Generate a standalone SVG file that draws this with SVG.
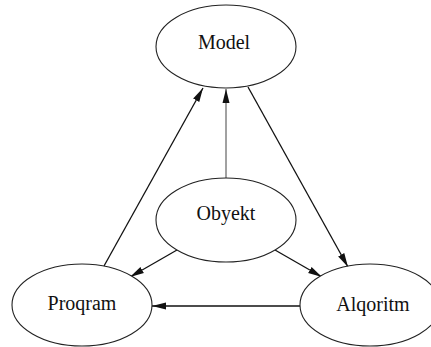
<svg xmlns="http://www.w3.org/2000/svg" width="431" height="347" viewBox="0 0 431 347">
<style>
.node ellipse{fill:#fff;stroke:#222;stroke-width:1.1}
.node text{font-family:"Liberation Serif","Times New Roman",serif;font-size:20px;fill:#111;text-anchor:middle}
.edges line{stroke:#111;stroke-width:1.3;marker-end:url(#arr)}
</style>
<defs>
<marker id="arr" markerUnits="userSpaceOnUse" markerWidth="15" markerHeight="9" refX="14" refY="4" orient="auto">
<path d="M0,0.5 L14,4 L0,7.5 z" fill="#111"/>
</marker>
</defs>
<rect width="431" height="347" fill="#fff"/>
<g class="edges">
<line x1="104" y1="266" x2="203" y2="88"/>
<line x1="226" y1="178" x2="226" y2="89" style="stroke:#444;stroke-width:1"/>
<line x1="248" y1="87" x2="348" y2="267"/>
<line x1="177" y1="250" x2="130" y2="277"/>
<line x1="275" y1="250" x2="322" y2="277"/>
<line x1="300" y1="306" x2="152" y2="306"/>
</g>
<g id="model" class="node"><ellipse cx="226" cy="46.5" rx="70" ry="41.5"/><text x="224" y="48.5">Model</text></g>
<g id="obyekt" class="node"><ellipse cx="226" cy="220" rx="70" ry="42"/><text x="226" y="220">Obyekt</text></g>
<g id="proqram" class="node"><ellipse cx="82" cy="305" rx="70" ry="41"/><text x="82" y="310">Proqram</text></g>
<g id="alqoritm" class="node"><ellipse cx="370" cy="305" rx="70" ry="41"/><text x="373" y="311">Alqoritm</text></g>
</svg>
